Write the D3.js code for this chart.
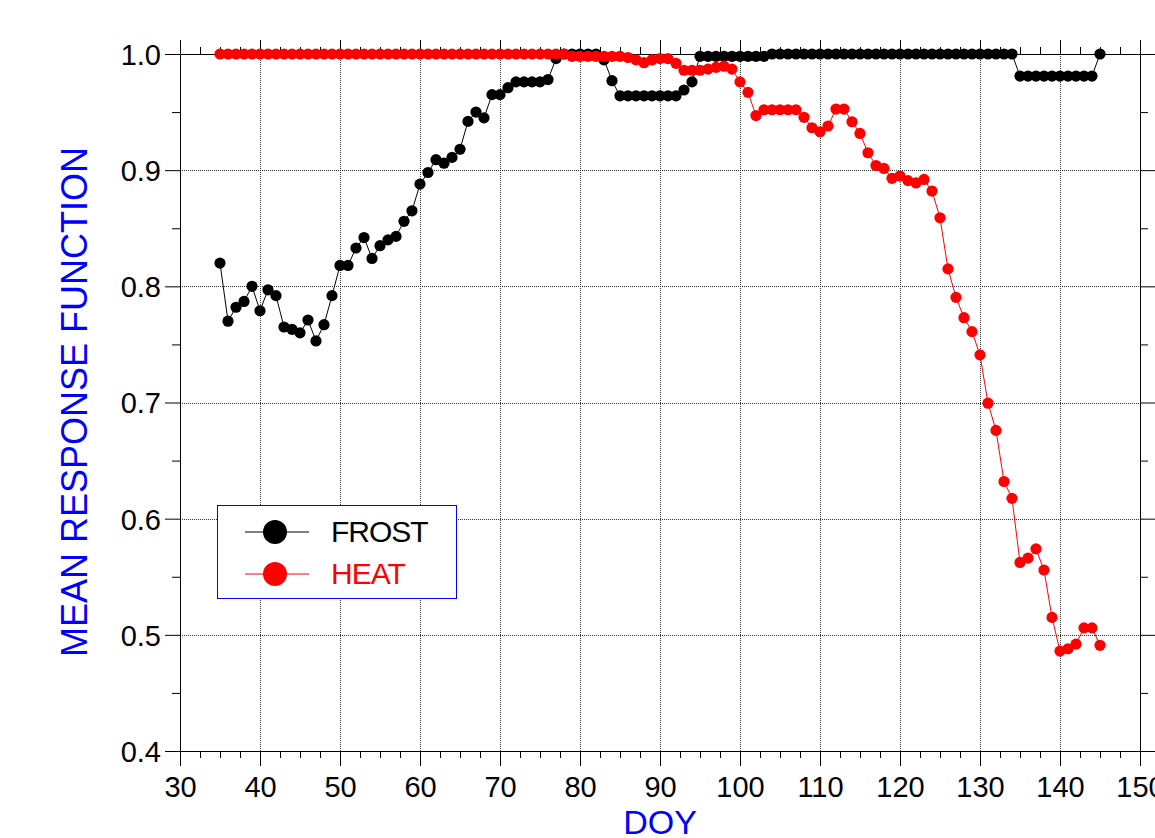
<!DOCTYPE html>
<html>
<head>
<meta charset="utf-8">
<script src="https://cdn.jsdelivr.net/npm/d3@7/dist/d3.min.js"></script>
<style>
html,body{margin:0;padding:0;background:#fff;overflow:hidden;}
text{font-family:"Liberation Sans",Arial,sans-serif;}
</style>
</head>
<body>
<svg id="chart" width="1155" height="838"></svg>
<script>
const doy = d3.range(35, 146);
const frost = [
0.820,0.770,0.782,0.787,0.800,0.779,0.797,0.792,0.765,0.763,
0.760,0.771,0.753,0.767,0.792,0.818,0.818,0.833,0.842,0.824,
0.835,0.840,0.843,0.856,0.865,0.888,0.898,0.909,0.906,0.911,
0.918,0.942,0.950,0.945,0.965,0.965,0.971,0.976,0.976,0.976,
0.976,0.978,0.996,1.000,1.000,1.000,1.000,1.000,0.995,0.977,
0.964,0.964,0.964,0.964,0.964,0.964,0.964,0.964,0.969,0.976,
0.998,0.998,0.998,0.998,0.998,0.998,0.998,0.998,0.998,1.000,
1.000,1.000,1.000,1.000,1.000,1.000,1.000,1.000,1.000,1.000,
1.000,1.000,1.000,1.000,1.000,1.000,1.000,1.000,1.000,1.000,
1.000,1.000,1.000,1.000,1.000,1.000,1.000,1.000,1.000,1.000,
0.981,0.981,0.981,0.981,0.981,0.981,0.981,0.981,0.981,0.981,
1.000];
const heat = [
1.000,1.000,1.000,1.000,1.000,1.000,1.000,1.000,1.000,1.000,
1.000,1.000,1.000,1.000,1.000,1.000,1.000,1.000,1.000,1.000,
1.000,1.000,1.000,1.000,1.000,1.000,1.000,1.000,1.000,1.000,
1.000,1.000,1.000,1.000,1.000,1.000,1.000,1.000,1.000,1.000,
1.000,1.000,1.000,1.000,0.998,0.998,0.998,0.998,0.998,0.998,
0.998,0.997,0.995,0.9925,0.995,0.996,0.996,0.992,0.986,0.986,
0.986,0.987,0.9885,0.9895,0.987,0.976,0.967,0.947,0.952,0.952,
0.952,0.952,0.952,0.9455,0.9365,0.933,0.938,0.9526,0.9526,0.9417,
0.9316,0.915,0.904,0.9015,0.893,0.895,0.891,0.889,0.892,0.882,
0.859,0.815,0.7905,0.773,0.761,0.741,0.6994,0.676,0.632,0.6175,
0.5623,0.566,0.574,0.5558,0.515,0.486,0.488,0.492,0.506,0.506,
0.491];
const xTicks = [30,40,50,60,70,80,90,100,110,120,130,140,150];
const yTicks = [0.4,0.5,0.6,0.7,0.8,0.9,1.0];
const seriesNames = ["FROST","HEAT"];
const seriesColors = ["#000000","#ff0000"];

const svg = d3.select("#chart");
const L = 180, R = 1140, T = 54, B = 751;
const x = d3.scaleLinear().domain([30,150]).range([L,R]);
const y = d3.scaleLinear().domain([0.4,1.0]).range([B,T]);

const xMinor = d3.range(30, 150.01, 2.5);
const yMinor = d3.range(0.4, 1.0001, 0.05).map(v=>+v.toFixed(2));

// grid
const grid = svg.append("g").attr("shape-rendering","crispEdges");
grid.selectAll(".vg").data(xTicks.filter(d=>d>30&&d<150)).enter().append("line")
  .attr("x1",d=>Math.round(x(d))+0.5).attr("x2",d=>Math.round(x(d))+0.5)
  .attr("y1",T).attr("y2",B)
  .attr("stroke","#333").attr("stroke-dasharray","1,1");
grid.selectAll(".hg").data(yTicks.filter(d=>d>0.4&&d<1.0)).enter().append("line")
  .attr("y1",d=>Math.round(y(d))+0.5).attr("y2",d=>Math.round(y(d))+0.5)
  .attr("x1",L).attr("x2",R)
  .attr("stroke","#333").attr("stroke-dasharray","1,1");

function styleAxis(g){
  g.select(".domain").attr("stroke","#000");
  g.selectAll(".tick line").attr("stroke","#000");
}
// bottom axis
const bx = svg.append("g").attr("transform",`translate(0,${B})`)
  .call(d3.axisBottom(x).tickValues(xTicks).tickFormat(d3.format("d")).tickSize(15).tickSizeOuter(0));
bx.selectAll("text").attr("font-size",29).attr("fill","#000").attr("dy",null).attr("y",46);
styleAxis(bx);
svg.append("g").attr("transform",`translate(0,${B})`)
  .call(d3.axisBottom(x).tickValues(xMinor.filter(v=>v%10!==0)).tickFormat("").tickSize(7).tickSizeOuter(0))
  .call(g=>{g.select(".domain").remove(); g.selectAll("line").attr("stroke","#000");});
// top axis
const tx = svg.append("g").attr("transform",`translate(0,${T})`)
  .call(d3.axisTop(x).tickValues(xTicks).tickFormat("").tickSize(14).tickSizeOuter(0));
styleAxis(tx);
svg.append("g").attr("transform",`translate(0,${T})`)
  .call(d3.axisTop(x).tickValues(xMinor.filter(v=>v%10!==0)).tickFormat("").tickSize(7).tickSizeOuter(0))
  .call(g=>{g.select(".domain").remove(); g.selectAll("line").attr("stroke","#000");});
// left axis
const ly = svg.append("g").attr("transform",`translate(${L},0)`)
  .call(d3.axisLeft(y).tickValues(yTicks).tickFormat(d3.format(".1f")).tickSize(15).tickSizeOuter(0));
ly.selectAll("text").attr("font-size",29).attr("fill","#000").attr("x",-19).attr("dy","0.36em");
styleAxis(ly);
svg.append("g").attr("transform",`translate(${L},0)`)
  .call(d3.axisLeft(y).tickValues(yMinor.filter(v=>Math.round(v*100)%10!==0)).tickFormat("").tickSize(8).tickSizeOuter(0))
  .call(g=>{g.select(".domain").remove(); g.selectAll("line").attr("stroke","#000");});
// right axis
const ry = svg.append("g").attr("transform",`translate(${R},0)`)
  .call(d3.axisRight(y).tickValues(yTicks).tickFormat("").tickSize(15).tickSizeOuter(0));
styleAxis(ry);
svg.append("g").attr("transform",`translate(${R},0)`)
  .call(d3.axisRight(y).tickValues(yMinor.filter(v=>Math.round(v*100)%10!==0)).tickFormat("").tickSize(8).tickSizeOuter(0))
  .call(g=>{g.select(".domain").remove(); g.selectAll("line").attr("stroke","#000");});

// axis titles
svg.append("text").attr("x",660).attr("y",834).attr("text-anchor","middle")
  .attr("font-size",34).attr("fill","#0000ff").text("DOY");
svg.append("text").attr("transform","translate(87,402) rotate(-90)").attr("text-anchor","middle")
  .attr("font-size",36).attr("fill","#0000ff").text("MEAN RESPONSE FUNCTION");

// series
const seriesData = [frost, heat];
const line = d3.line().x((d,i)=>x(doy[i])).y(d=>y(d));
seriesData.forEach((vals,si)=>{
  const g = svg.append("g");
  g.append("path").datum(vals).attr("d",line).attr("fill","none")
    .attr("stroke",seriesColors[si]).attr("stroke-width",1);
  g.selectAll("circle").data(vals).enter().append("circle")
    .attr("cx",(d,i)=>x(doy[i])).attr("cy",d=>y(d)).attr("r",5.6)
    .attr("fill",seriesColors[si]);
});

// legend
const lg = svg.append("g");
lg.append("rect").attr("x",217.5).attr("y",505.5).attr("width",239).attr("height",93)
  .attr("fill","#fff").attr("stroke","#0000ff").attr("stroke-width",1);
seriesNames.forEach((n,i)=>{
  const yy = 532 + i*42;
  lg.append("line").attr("x1",245).attr("x2",309).attr("y1",yy).attr("y2",yy)
    .attr("stroke",seriesColors[i]).attr("stroke-width",1);
  lg.append("circle").attr("cx",275).attr("cy",yy).attr("r",12).attr("fill",seriesColors[i]);
  lg.append("text").attr("x",331).attr("y",yy+10).attr("font-size",30)
    .attr("letter-spacing",-1).attr("fill",seriesColors[i]).text(n);
});
</script>
</body>
</html>
